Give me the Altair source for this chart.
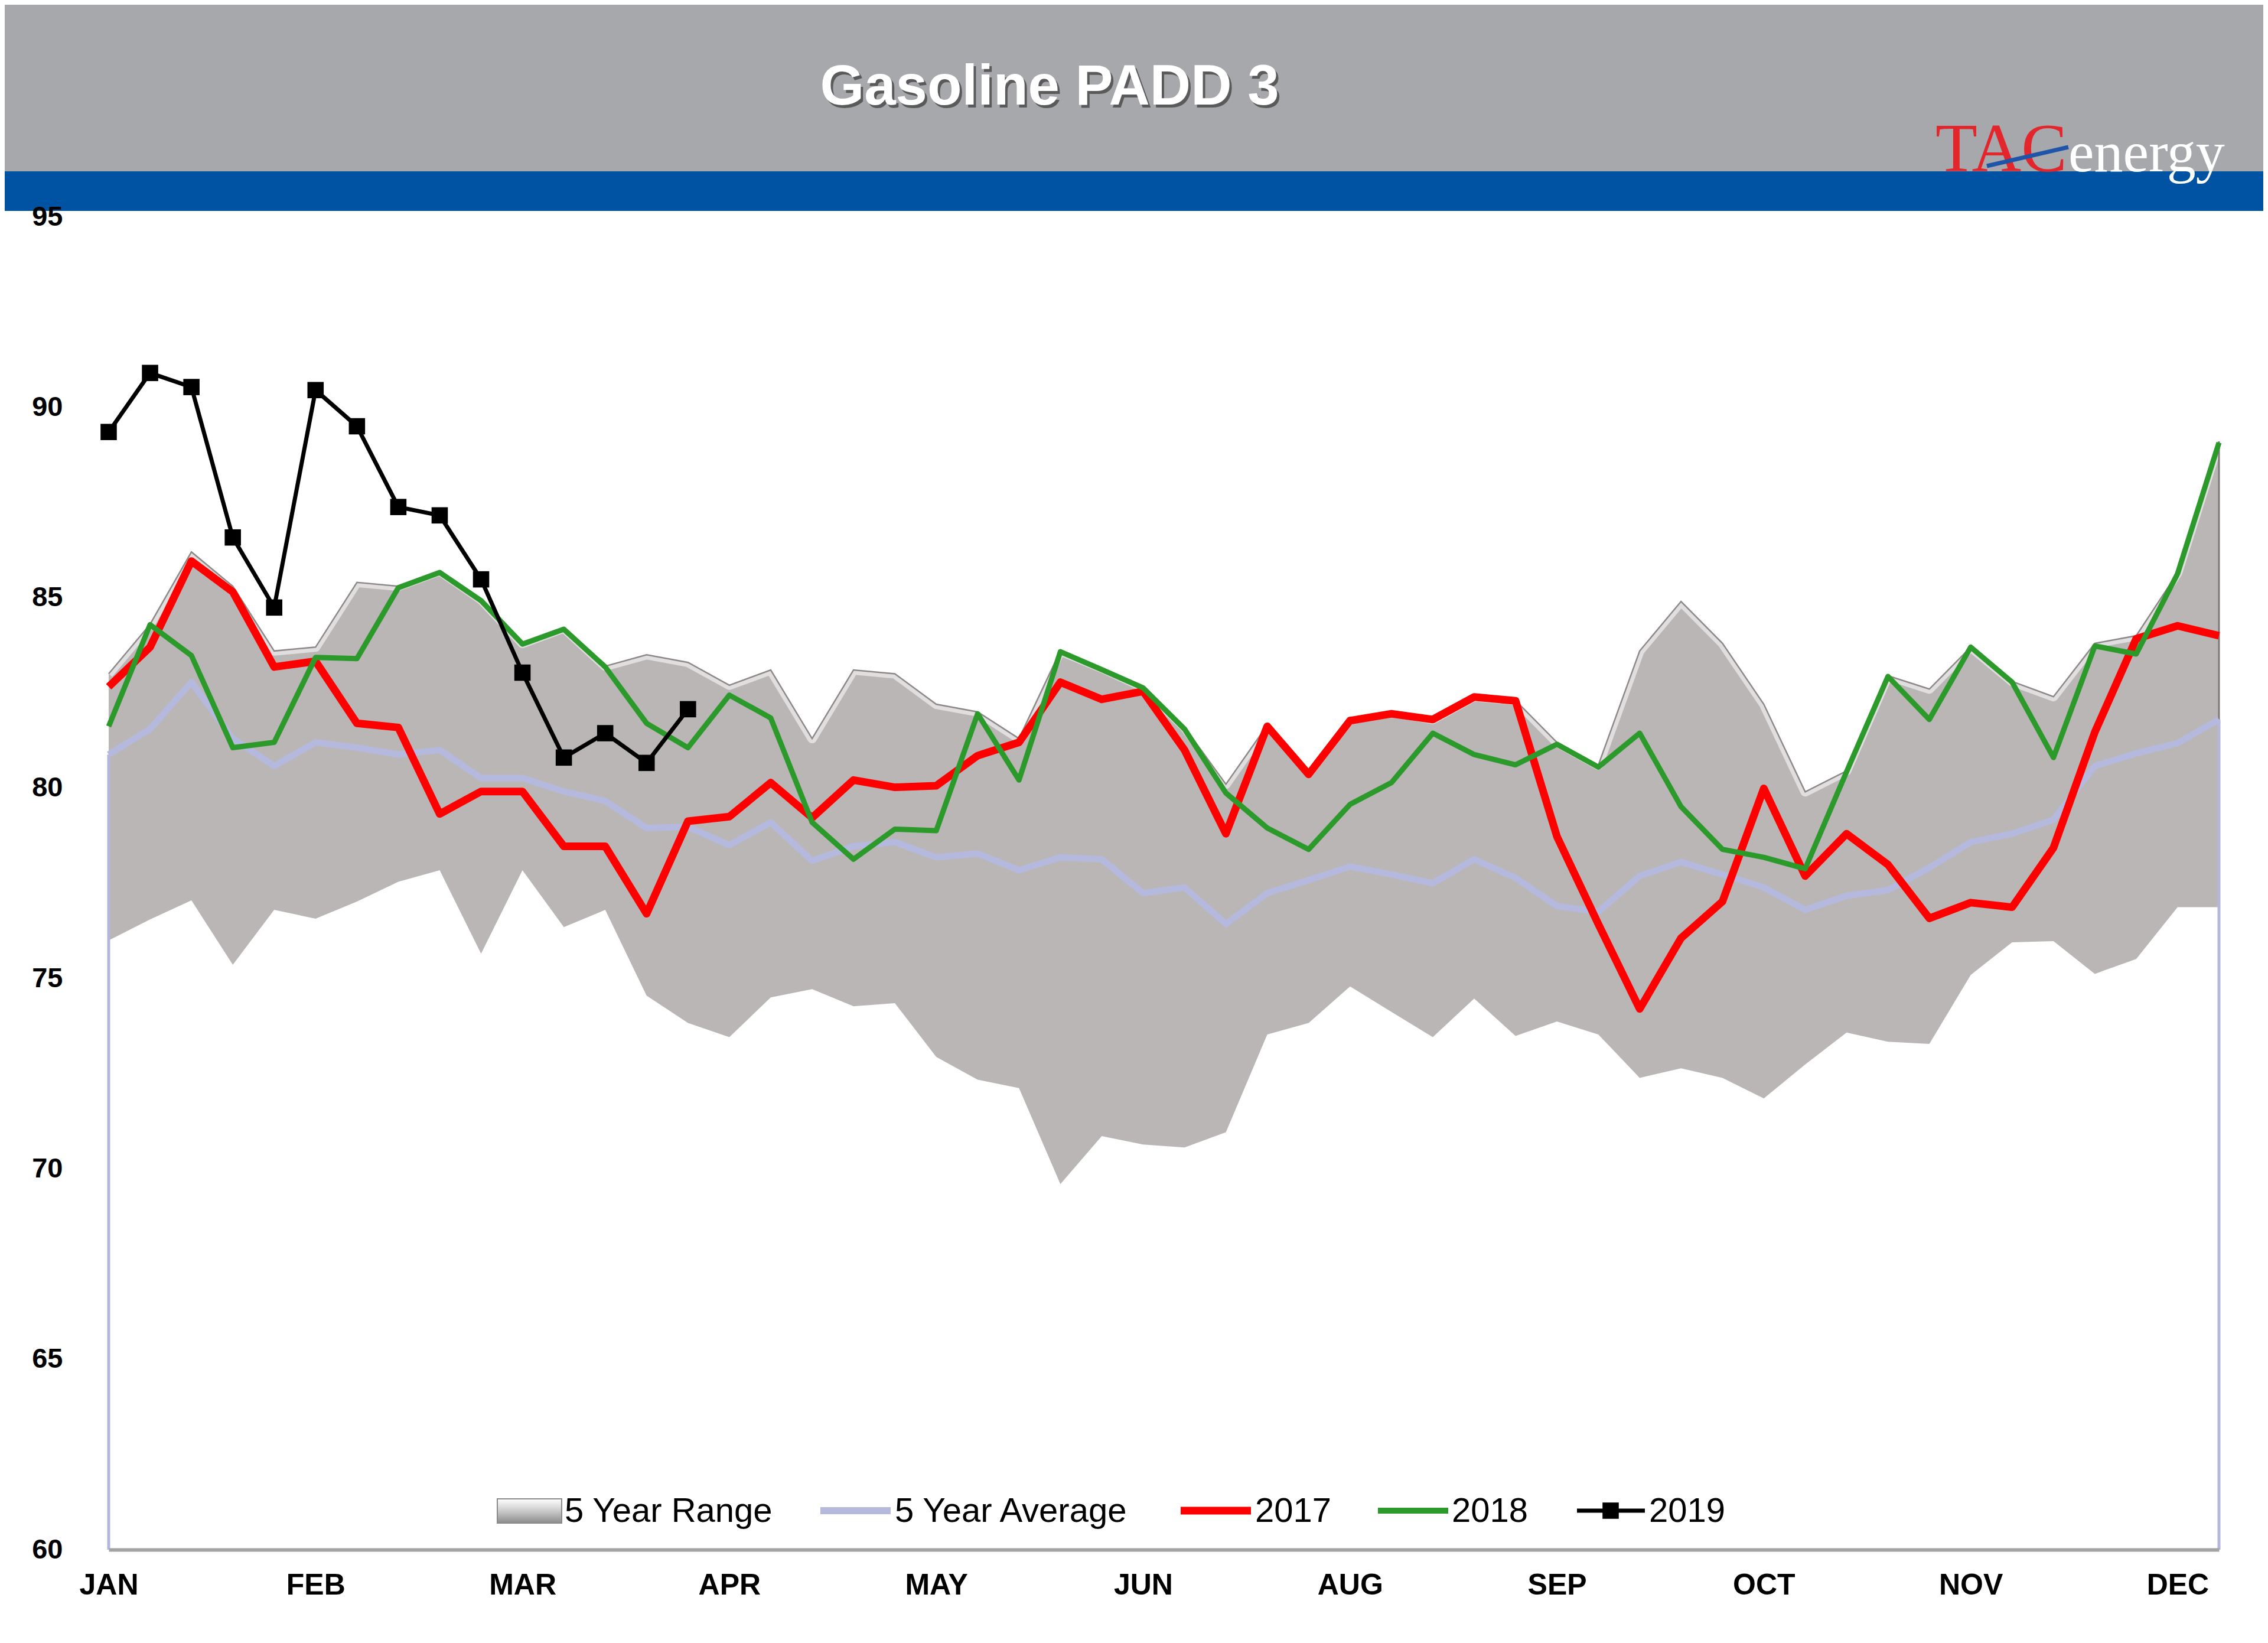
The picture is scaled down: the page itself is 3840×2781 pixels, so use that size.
import altair as alt
import pandas as pd

# ---------------- data ----------------
WEEKS = list(range(52))
MONTH_LABELS = ["JAN", "FEB", "MAR", "APR", "MAY", "JUN", "AUG", "SEP", "OCT", "NOV", "DEC"]
MONTH_TICKS = [0, 5, 10, 15, 20, 25, 30, 35, 40, 45, 50]
Y_TICKS = [60, 65, 70, 75, 80, 85, 90, 95]

RANGE_LO = [76.0, 76.55, 77.05, 75.36, 76.8, 76.57, 77.02, 77.54, 77.84, 75.65,
            77.84, 76.35, 76.8, 74.55, 73.83, 73.46, 74.5, 74.72, 74.27, 74.35,
            72.94, 72.34, 72.12, 69.6, 70.86, 70.64, 70.56, 70.96, 73.53, 73.83,
            74.79, 74.12, 73.46, 74.47, 73.49, 73.87, 73.53, 72.39, 72.64, 72.39,
            71.85, 72.74, 73.58, 73.34, 73.28, 75.09, 75.95, 75.98, 75.12, 75.51,
            76.87, 76.87]
RANGE_HI = [83.0, 84.3, 86.2, 85.3, 83.6, 83.7, 85.4, 85.3, 85.7, 84.95,
            83.8, 84.2, 83.2, 83.5, 83.3, 82.7, 83.1, 81.3, 83.1, 83.0,
            82.2, 82.0, 81.3, 83.6, 83.15, 82.65, 81.6, 80.1, 81.65, 80.4,
            81.8, 82.0, 81.8, 82.4, 82.3, 81.2, 80.6, 83.6, 84.9, 83.8,
            82.2, 79.9, 80.45, 82.95, 82.6, 83.7, 82.8, 82.4, 83.8, 84.0,
            85.65, 89.1]
AVG5 = [80.88, 81.55, 82.78, 81.3, 80.58, 81.2, 81.06, 80.88, 81.0, 80.26,
        80.26, 79.91, 79.66, 78.95, 78.98, 78.5, 79.1, 78.09, 78.47, 78.58,
        78.18, 78.28, 77.84, 78.18, 78.13, 77.24, 77.39, 76.43, 77.24, 77.58,
        77.94, 77.73, 77.5, 78.13, 77.64, 76.9, 76.75, 77.69, 78.06, 77.73,
        77.39, 76.8, 77.17, 77.32, 77.91, 78.58, 78.8, 79.17, 80.58, 80.91,
        81.18, 81.8]
Y2017 = [82.66, 83.7, 85.96, 85.15, 83.18, 83.33, 81.7, 81.59, 79.32, 79.91,
         79.91, 78.47, 78.47, 76.7, 79.13, 79.25, 80.14, 79.22, 80.21, 80.02,
         80.06, 80.85, 81.2, 82.78, 82.33, 82.54, 81.0, 78.8, 81.62, 80.36,
         81.77, 81.95, 81.8, 82.39, 82.29, 78.73, 76.43, 74.2, 76.06, 77.02,
         79.99, 77.69, 78.8, 77.99, 76.58, 76.99, 76.87, 78.43, 81.47, 83.92,
         84.26, 84.0]
Y2018 = [81.62, 84.29, 83.48, 81.06, 81.2, 83.43, 83.4, 85.26, 85.66, 84.92,
         83.78, 84.17, 83.18, 81.7, 81.06, 82.44, 81.84, 79.1, 78.13, 78.92,
         78.88, 81.95, 80.21, 83.58, 83.11, 82.63, 81.55, 79.87, 78.95, 78.39,
         79.57, 80.14, 81.44, 80.88, 80.61, 81.15, 80.55, 81.44, 79.51, 78.39,
         78.18, 77.88, 80.43, 82.93, 81.8, 83.7, 82.78, 80.8, 83.73, 83.52,
         85.63, 89.07]
Y2019 = [89.35, 90.9, 90.53, 86.58, 84.74, 90.45, 89.5, 87.38, 87.16, 85.48,
         83.03, 80.8, 81.44, 80.66, 82.07]

df = pd.DataFrame(dict(week=WEEKS, lo=RANGE_LO, hi=RANGE_HI, avg=AVG5,
                       y2017=Y2017, y2018=Y2018))
df19 = pd.DataFrame(dict(week=WEEKS[:len(Y2019)], v=Y2019))
one = pd.DataFrame({"k": [0]})

# ---------------- layout ----------------
W, H = 3573, 2256
PAD = {"left": 176, "top": 359, "right": 75, "bottom": 150}
FONT = "Liberation Sans"

xs = alt.Scale(domain=[0, 51], nice=False, zero=False)
ys = alt.Scale(domain=[60, 95], nice=False, zero=False)

label_expr = "[" + ",".join("'%s'" % m for m in MONTH_LABELS) + "][round(datum.value / 5)]"

x_axis = alt.Axis(values=MONTH_TICKS, labelExpr=label_expr, title=None, grid=False,
                  ticks=False, tickSize=0, domain=True, domainColor="#A3A3A3",
                  domainWidth=6, labelFont=FONT, labelFontWeight="bold",
                  labelFontSize=50, labelColor="#000000", labelPadding=60,
                  labelBaseline="middle", labelAlign="center", labelFlush=False,
                  labelOverlap=False, zindex=1)
y_axis = alt.Axis(values=Y_TICKS, title=None, grid=False, ticks=False, tickSize=0,
                  domain=False, labelFont=FONT, labelFontWeight="bold",
                  labelFontSize=47, labelColor="#000000", labelPadding=78,
                  labelFlush=False, labelOverlap=False, zindex=1)

base = alt.Chart(df)
X = alt.X("week:Q", scale=xs, axis=x_axis, title=None)


def Yf(field):
    return alt.Y(field + ":Q", scale=ys, axis=y_axis, title=None)


# ---------------- data layers ----------------
area = base.mark_area(color="#BAB6B5").encode(x=X, y=Yf("lo"), y2=alt.Y2("hi:Q"))
highlight = base.mark_line(color="#FFFFFF", strokeWidth=16, opacity=0.55,
                           strokeJoin="round").encode(x=X, y=Yf("hi"))
edge = base.mark_line(color="#8E8989", strokeWidth=2.5).encode(x=X, y=Yf("hi"))
right_edge = base.transform_filter("datum.week == 51").mark_rule(
    color="#7D7878", strokeWidth=3).encode(x=X, y=Yf("lo"), y2=alt.Y2("hi:Q"))
avg_drop = base.transform_filter("datum.week == 0 || datum.week == 51").mark_rule(
    color="#B3B7DB", strokeWidth=5).encode(x=X, y=Yf("avg"), y2=alt.datum(60))

avg_line = base.mark_line(color="#B5B9DD", strokeWidth=11, strokeJoin="round").encode(
    x=X, y=Yf("avg"))
red_line = base.mark_line(color="#FF0000", strokeWidth=13, strokeJoin="round").encode(
    x=X, y=Yf("y2017"))
green_line = base.mark_line(color="#2B9A2B", strokeWidth=9, strokeJoin="round").encode(
    x=X, y=Yf("y2018"))
black_line = alt.Chart(df19).mark_line(color="#000000", strokeWidth=7).encode(
    x=X, y=Yf("v"))
black_pts = alt.Chart(df19).mark_square(size=760, color="#000000", opacity=1).encode(
    x=X, y=Yf("v"))

# ---------------- header ----------------
o = alt.Chart(one)
hdr_gray = o.mark_rect(color="#A7A8AC").encode(
    x=alt.value(-PAD["left"]), x2=alt.value(W + PAD["right"]),
    y=alt.value(-PAD["top"]), y2=alt.value(-77))
hdr_blue = o.mark_rect(color="#0053A2").encode(
    x=alt.value(-PAD["left"]), x2=alt.value(W + PAD["right"]),
    y=alt.value(-77), y2=alt.value(-10))
title_shadow = o.mark_text(text="Gasoline PADD 3", font=FONT, fontWeight="bold",
                           fontSize=96, color="#3A3A3A", opacity=0.7,
                           align="center", baseline="middle").encode(
    x=alt.value(1597), y=alt.value(-214))
title = o.mark_text(text="Gasoline PADD 3", font=FONT, fontWeight="bold",
                    fontSize=96, color="#FFFFFF", align="center",
                    baseline="middle").encode(x=alt.value(1593), y=alt.value(-219))
logo_tac = o.mark_text(text="TAC", font="Liberation Serif", fontSize=116,
                       color="#E3262B", align="left", baseline="alphabetic").encode(
    x=alt.value(3093), y=alt.value(-77))
logo_energy = o.mark_text(text="energy", font="Liberation Serif", fontSize=98,
                          color="#FFFFFF", align="left", baseline="alphabetic").encode(
    x=alt.value(3318), y=alt.value(-77))
logo_slash = o.mark_rule(color="#1F55A8", strokeWidth=7).encode(
    x=alt.value(3180), x2=alt.value(3318), y=alt.value(-86), y2=alt.value(-118))

# ---------------- legend ----------------
LY = 2190
leg_box = o.mark_rect(
    fill=alt.Gradient(gradient="linear",
                      stops=[alt.GradientStop(color="#FFFFFF", offset=0),
                             alt.GradientStop(color="#D0D0D0", offset=0.45),
                             alt.GradientStop(color="#8C8C8C", offset=1)],
                      x1=0, x2=0, y1=0, y2=1),
    stroke="#8A8A8A", strokeWidth=2).encode(
    x=alt.value(658), x2=alt.value(767), y=alt.value(LY - 20), y2=alt.value(LY + 21))


def leg_line(x1, x2, color, width):
    return o.mark_rule(color=color, strokeWidth=width).encode(
        x=alt.value(x1), x2=alt.value(x2), y=alt.value(LY), y2=alt.value(LY))


def leg_text(x, txt):
    return o.mark_text(text=txt, font=FONT, fontSize=58, color="#000000",
                       align="left", baseline="middle").encode(
        x=alt.value(x), y=alt.value(LY + 2))


leg_avg = leg_line(1205, 1324, "#B5B9DD", 12)
leg_red = leg_line(1815, 1934, "#FF0000", 13)
leg_green = leg_line(2149, 2268, "#2B9A2B", 10)
leg_black = leg_line(2486, 2601, "#000000", 7)
leg_sq = o.mark_square(size=760, color="#000000", opacity=1).encode(
    x=alt.value(2543), y=alt.value(LY))

legend = [leg_box, leg_text(772, "5 Year Range"),
          leg_avg, leg_text(1331, "5 Year Average"),
          leg_red, leg_text(1941, "2017"),
          leg_green, leg_text(2274, "2018"),
          leg_black, leg_sq, leg_text(2608, "2019")]

chart = alt.layer(
    area, highlight, edge, right_edge, avg_drop,
    avg_line, red_line, green_line, black_line, black_pts,
    hdr_gray, hdr_blue, title_shadow, title, logo_tac, logo_energy, logo_slash,
    *legend,
).properties(
    width=W, height=H, padding=PAD,
    autosize=alt.AutoSizeParams(type="none"),
    background="#FFFFFF",
).configure_view(strokeWidth=0)

chart.save("out.html", embed_options={"renderer": "svg", "actions": False})
